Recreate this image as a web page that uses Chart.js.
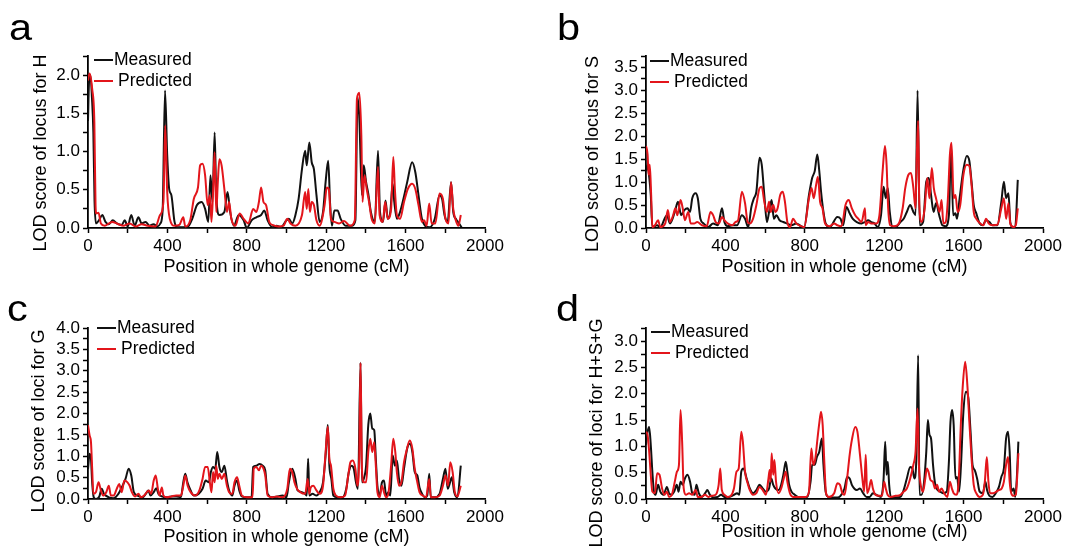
<!DOCTYPE html>
<html>
<head>
<meta charset="utf-8">
<script src="https://cdn.jsdelivr.net/npm/chart.js@4.4.1/dist/chart.umd.min.js"></script>
<style>
  body { margin: 0; background: #fff; font-family: "Liberation Sans", Arial, sans-serif; }
  #page { position: relative; width: 1081px; height: 552px; overflow: hidden; }
  .panel { position: absolute; }
  .letter { position: absolute; font-size: 37px; line-height: 1; color: #000; transform: scaleX(1.12); transform-origin: left top; }
  .legend { position: absolute; font-size: 17.5px; color: #000; }
  .legend div { height: 21px; line-height: 21px; white-space: nowrap; }
  .legend span { display: inline-block; width: 19px; height: 2px; vertical-align: middle; margin-right: 1px; }
  .legend .gap { margin-left: 4px; font-weight: normal; }
  .ytitle { position: absolute; font-size: 18px; line-height: 1; white-space: nowrap; color: #000;
            transform: translate(-50%, -50%) rotate(-90deg); }
</style>
</head>
<body>
<div id="page">
  <div class="panel" style="left:0;top:0"><canvas id="chartA" width="540" height="280"></canvas></div>
  <div class="panel" style="left:540px;top:0"><canvas id="chartB" width="541" height="280"></canvas></div>
  <div class="panel" style="left:0;top:280px"><canvas id="chartC" width="540" height="272"></canvas></div>
  <div class="panel" style="left:540px;top:280px"><canvas id="chartD" width="541" height="272"></canvas></div>

  <div class="letter" style="left:9px;top:9px">a</div>
  <div class="letter" style="left:557px;top:9px">b</div>
  <div class="letter" style="left:7px;top:290px">c</div>
  <div class="letter" style="left:556px;top:290px">d</div>

  <div class="ytitle" style="left:40px;top:153px">LOD score of locus for H</div>
  <div class="ytitle" style="left:592px;top:154px">LOD score of locus for S</div>
  <div class="ytitle" style="left:38px;top:421px">LOD score of loci for G</div>
  <div class="ytitle" style="left:596px;top:433px">LOD score of loci for H+S+G</div>

  <div class="legend" style="left:94px;top:49px">
    <div><span style="background:#111"></span>Measured</div>
    <div><span style="background:#e3151b"></span><b class="gap">Predicted</b></div>
  </div>
  <div class="legend" style="left:650px;top:50px">
    <div><span style="background:#111"></span>Measured</div>
    <div><span style="background:#e3151b"></span><b class="gap">Predicted</b></div>
  </div>
  <div class="legend" style="left:97px;top:317px">
    <div><span style="background:#111"></span>Measured</div>
    <div><span style="background:#e3151b"></span><b class="gap">Predicted</b></div>
  </div>
  <div class="legend" style="left:651px;top:321px">
    <div><span style="background:#111"></span>Measured</div>
    <div><span style="background:#e3151b"></span><b class="gap">Predicted</b></div>
  </div>
</div>

<script>
// x ticks (cM), labelled every 400
const xTicks = [0, 400, 800, 1200, 1600, 2000];

// panel a: LOD for H, [position cM, LOD]
const measuredH = [[0,1.40],[5,1.90],[12,2.00],[20,1.70],[27,1.25],[33,0.35],[40,0.06],[55,0.10],[72,0.17],[88,0.08],[105,0.05],[125,0.10],[145,0.06],[170,0.04],[185,0.10],[200,0.02],[218,0.17],[235,0.03],[254,0.14],[270,0.06],[290,0.08],[310,0.03],[330,0.05],[350,0.02],[365,0.06],[376,0.23],[388,1.80],[399,0.95],[409,0.51],[420,0.43],[436,0.08],[452,0.01],[480,0.01],[505,0.02],[525,0.12],[549,0.30],[573,0.34],[590,0.25],[606,0.08],[617,0.69],[627,0.34],[638,1.25],[646,0.43],[662,0.17],[687,0.21],[703,0.47],[716,0.21],[735,0.03],[759,0.17],[784,0.10],[800,0.00],[824,0.10],[848,0.14],[872,0.17],[888,0.23],[905,0.10],[929,0.01],[950,0.03],[971,0.01],[1000,0.10],[1012,0.12],[1029,0.06],[1045,0.17],[1061,0.38],[1078,0.77],[1094,1.01],[1102,0.82],[1115,1.12],[1127,0.86],[1138,0.77],[1151,0.43],[1167,0.08],[1184,0.21],[1197,0.60],[1210,0.88],[1220,0.30],[1229,0.03],[1241,0.23],[1257,0.23],[1273,0.12],[1298,0.03],[1331,0.03],[1347,0.10],[1358,1.71],[1367,1.43],[1380,0.43],[1389,0.82],[1401,0.60],[1412,0.45],[1425,0.21],[1445,0.08],[1461,1.01],[1471,0.21],[1486,0.08],[1499,0.36],[1510,0.12],[1523,0.21],[1535,0.58],[1543,0.34],[1556,0.12],[1572,0.21],[1589,0.38],[1608,0.60],[1633,0.86],[1649,0.73],[1665,0.43],[1682,0.12],[1698,0.03],[1722,0.01],[1747,0.12],[1771,0.43],[1784,0.38],[1796,0.17],[1812,0.08],[1829,0.60],[1840,0.21],[1853,0.12],[1869,0.06],[1882,0.01]];
const predictedH = [[0,1.93],[8,2.02],[21,1.82],[32,1.38],[38,0.30],[42,0.19],[53,0.20],[65,0.06],[85,0.03],[121,0.08],[153,0.05],[178,0.03],[210,0.06],[240,0.02],[270,0.05],[300,0.03],[340,0.02],[363,0.17],[380,0.34],[389,1.34],[399,0.47],[412,0.12],[436,0.03],[460,0.04],[480,0.14],[490,0.02],[515,0.10],[533,0.38],[554,0.53],[565,0.82],[577,0.84],[590,0.69],[603,0.30],[614,0.43],[622,0.08],[630,0.47],[638,0.99],[646,0.21],[654,0.60],[662,0.90],[673,0.82],[687,0.51],[700,0.21],[711,0.34],[722,0.12],[743,0.03],[764,0.19],[784,0.12],[808,0.06],[832,0.25],[848,0.21],[861,0.34],[872,0.53],[884,0.34],[897,0.30],[913,0.08],[929,0.04],[960,0.02],[985,0.03],[1004,0.12],[1020,0.06],[1045,0.03],[1078,0.17],[1094,0.47],[1102,0.25],[1110,0.51],[1118,0.21],[1127,0.34],[1138,0.30],[1151,0.10],[1167,0.03],[1192,0.30],[1203,0.53],[1213,0.51],[1224,0.12],[1241,0.08],[1265,0.06],[1290,0.09],[1320,0.03],[1344,0.10],[1355,1.69],[1367,1.77],[1377,1.21],[1383,0.34],[1393,0.69],[1404,0.51],[1416,0.34],[1429,0.12],[1445,0.06],[1461,0.80],[1469,0.17],[1485,0.08],[1497,0.34],[1510,0.12],[1527,0.25],[1538,0.93],[1546,0.51],[1556,0.17],[1572,0.12],[1592,0.34],[1611,0.51],[1633,0.58],[1649,0.51],[1665,0.30],[1682,0.08],[1693,0.10],[1706,0.03],[1719,0.32],[1731,0.06],[1750,0.06],[1771,0.45],[1788,0.38],[1801,0.12],[1816,0.06],[1829,0.60],[1840,0.25],[1853,0.10],[1866,0.03],[1878,0.17]];

// panel b: LOD for S
const measuredS = [[0,1.24],[8,1.38],[16,1.12],[24,0.72],[32,0.02],[56,0.06],[72,0.02],[105,0.28],[121,0.10],[145,0.35],[161,0.57],[177,0.28],[193,0.39],[209,0.43],[222,0.35],[233,0.65],[250,0.76],[261,0.65],[274,0.20],[290,0.10],[314,0.02],[338,0.10],[362,0.06],[383,0.43],[395,0.13],[411,0.04],[435,0.06],[459,0.06],[483,0.28],[499,0.20],[515,0.02],[531,0.46],[544,0.65],[556,0.79],[572,1.53],[583,1.38],[596,0.72],[609,0.13],[620,0.35],[633,0.61],[644,0.20],[657,0.28],[673,0.17],[692,0.13],[709,0.10],[733,0.06],[757,0.10],[781,0.04],[797,0.02],[821,0.72],[837,1.09],[850,1.24],[863,1.60],[873,1.24],[882,0.79],[894,0.35],[905,0.10],[926,0.02],[964,0.24],[980,0.20],[993,0.06],[1010,0.46],[1026,0.32],[1042,0.20],[1062,0.13],[1086,0.10],[1103,0.13],[1119,0.17],[1135,0.13],[1151,0.10],[1168,0.02],[1184,0.28],[1197,0.90],[1208,0.65],[1218,0.87],[1228,0.35],[1241,0.02],[1257,0.02],[1282,0.13],[1298,0.20],[1314,0.35],[1331,0.50],[1347,0.35],[1358,0.28],[1368,3.00],[1379,0.06],[1396,0.13],[1412,1.01],[1425,1.09],[1436,0.72],[1449,0.35],[1461,0.54],[1477,0.28],[1493,0.06],[1510,0.04],[1526,0.28],[1537,1.82],[1547,0.28],[1559,0.32],[1567,0.20],[1580,0.65],[1599,1.27],[1616,1.57],[1629,1.46],[1640,1.01],[1651,0.50],[1664,0.32],[1681,0.10],[1697,0.06],[1713,0.17],[1730,0.13],[1746,0.06],[1770,0.06],[1790,0.57],[1803,1.01],[1814,0.65],[1826,0.76],[1835,0.13],[1847,0.02],[1860,0.02],[1873,1.05]];
const predictedS = [[0,1.79],[8,1.60],[13,1.16],[19,1.38],[26,0.72],[32,0.02],[45,0.06],[61,0.17],[72,0.02],[97,0.10],[110,0.39],[121,0.13],[137,0.28],[148,0.43],[158,0.28],[174,0.61],[185,0.43],[196,0.17],[213,0.35],[225,0.10],[242,0.10],[258,0.13],[282,0.06],[306,0.04],[325,0.35],[338,0.28],[351,0.13],[367,0.10],[383,0.24],[395,0.17],[411,0.10],[435,0.06],[451,0.13],[464,0.17],[483,0.79],[499,0.54],[512,0.13],[523,0.10],[539,0.20],[556,0.50],[572,0.87],[583,0.90],[596,0.57],[609,0.35],[620,0.57],[628,0.35],[641,0.50],[652,0.35],[663,0.43],[676,0.72],[689,0.79],[700,0.57],[712,0.13],[725,0.02],[741,0.20],[757,0.10],[781,0.04],[797,0.02],[821,0.65],[834,0.87],[845,0.65],[857,0.94],[866,1.12],[877,0.57],[889,0.43],[902,0.10],[926,0.04],[948,0.10],[964,0.06],[985,0.04],[1005,0.50],[1021,0.61],[1037,0.43],[1054,0.28],[1070,0.20],[1086,0.13],[1103,0.43],[1107,0.06],[1119,0.13],[1135,0.10],[1160,0.10],[1176,0.28],[1192,1.24],[1204,1.79],[1212,1.38],[1220,0.43],[1230,0.06],[1249,0.04],[1274,0.10],[1293,0.43],[1306,0.87],[1322,1.16],[1335,1.20],[1347,0.87],[1358,0.43],[1363,1.38],[1371,2.34],[1377,0.50],[1388,0.13],[1404,0.43],[1417,1.09],[1428,0.65],[1440,1.31],[1450,0.87],[1461,0.65],[1469,0.50],[1479,0.35],[1489,0.61],[1498,0.10],[1510,0.13],[1521,0.65],[1531,1.60],[1539,1.86],[1550,0.65],[1559,0.72],[1570,0.35],[1583,0.50],[1599,1.16],[1616,1.38],[1629,1.35],[1640,0.94],[1651,0.35],[1664,0.20],[1684,0.10],[1700,0.06],[1713,0.20],[1726,0.10],[1746,0.06],[1770,0.07],[1790,0.43],[1803,0.65],[1814,0.20],[1826,0.54],[1835,0.10],[1852,0.02],[1863,0.06],[1873,0.43]];

// panel c: LOD for G
const measuredG = [[0,0.70],[8,1.06],[15,0.94],[21,0.39],[29,0.04],[40,0.00],[57,0.06],[69,0.24],[81,0.12],[105,0.04],[129,0.02],[153,0.12],[170,0.27],[189,0.47],[205,0.71],[218,0.55],[231,0.16],[250,0.08],[275,0.04],[291,0.12],[304,0.20],[315,0.08],[331,0.16],[344,0.25],[355,0.12],[372,0.06],[396,0.04],[420,0.06],[444,0.06],[468,0.04],[480,0.39],[490,0.59],[501,0.39],[517,0.20],[533,0.08],[557,0.12],[577,0.24],[593,0.43],[609,0.39],[619,0.63],[630,0.75],[641,0.71],[651,1.10],[662,0.75],[674,0.63],[687,0.78],[700,0.43],[711,0.20],[727,0.08],[738,0.31],[751,0.43],[762,0.20],[775,0.06],[800,0.04],[824,0.04],[832,0.75],[848,0.78],[864,0.82],[880,0.78],[893,0.67],[905,0.12],[929,0.04],[950,0.05],[980,0.08],[1000,0.04],[1012,0.39],[1029,0.71],[1045,0.47],[1056,0.20],[1078,0.16],[1094,0.12],[1102,0.08],[1109,0.94],[1115,0.08],[1131,0.12],[1151,0.08],[1167,0.16],[1184,0.39],[1197,1.02],[1208,1.73],[1216,0.78],[1226,0.47],[1236,0.08],[1257,0.04],[1282,0.04],[1301,0.24],[1314,0.63],[1327,0.78],[1339,0.71],[1350,0.39],[1360,0.24],[1373,3.19],[1380,0.39],[1389,0.47],[1401,0.78],[1412,1.73],[1422,2.00],[1432,1.65],[1442,1.61],[1450,0.94],[1458,0.31],[1469,0.08],[1481,0.39],[1491,0.43],[1502,0.08],[1513,0.16],[1523,0.08],[1535,1.02],[1546,0.78],[1556,0.90],[1567,0.47],[1579,0.31],[1592,0.71],[1608,1.18],[1621,1.29],[1634,1.10],[1646,0.63],[1659,0.55],[1670,0.27],[1683,0.12],[1698,0.04],[1709,0.08],[1719,0.59],[1727,0.04],[1747,0.04],[1771,0.12],[1788,0.47],[1801,0.71],[1812,0.24],[1824,0.39],[1833,0.51],[1845,0.16],[1861,0.04],[1878,0.78]];
const predictedG = [[0,1.73],[8,1.49],[15,1.33],[21,0.71],[27,0.12],[40,0.16],[53,0.39],[65,0.20],[76,0.08],[92,0.16],[105,0.31],[115,0.08],[129,0.08],[145,0.24],[157,0.35],[170,0.16],[183,0.43],[199,0.39],[210,0.31],[221,0.16],[237,0.06],[254,0.12],[267,0.04],[283,0.08],[296,0.16],[307,0.20],[318,0.12],[331,0.43],[341,0.55],[352,0.24],[360,0.08],[372,0.27],[380,0.08],[396,0.04],[420,0.06],[444,0.08],[468,0.08],[480,0.31],[490,0.55],[502,0.31],[517,0.16],[541,0.08],[561,0.20],[577,0.47],[590,0.75],[603,0.75],[614,0.39],[622,0.16],[630,0.63],[638,0.39],[646,0.78],[654,0.47],[662,0.59],[674,0.47],[687,0.59],[700,0.31],[711,0.16],[727,0.12],[738,0.39],[751,0.51],[762,0.31],[775,0.08],[800,0.04],[829,0.04],[835,0.71],[848,0.75],[861,0.67],[872,0.78],[884,0.71],[893,0.55],[905,0.08],[929,0.04],[950,0.06],[980,0.04],[1004,0.24],[1017,0.71],[1029,0.63],[1040,0.39],[1053,0.24],[1069,0.16],[1094,0.12],[1107,0.47],[1115,0.12],[1122,0.27],[1135,0.31],[1151,0.20],[1167,0.12],[1184,0.31],[1197,1.10],[1208,1.69],[1216,0.94],[1224,0.78],[1236,0.24],[1249,0.08],[1273,0.04],[1295,0.08],[1311,0.55],[1322,0.86],[1334,0.90],[1347,0.71],[1357,0.31],[1367,1.10],[1373,3.18],[1380,0.71],[1389,0.39],[1401,0.39],[1412,1.10],[1422,1.41],[1432,1.10],[1442,1.33],[1450,0.78],[1458,0.16],[1469,0.04],[1481,0.31],[1491,0.16],[1502,0.04],[1513,0.12],[1527,0.78],[1538,1.41],[1548,1.10],[1556,0.63],[1567,0.31],[1579,0.39],[1592,0.86],[1605,1.14],[1621,1.37],[1634,1.18],[1646,0.71],[1659,0.39],[1670,0.16],[1687,0.08],[1703,0.04],[1719,0.47],[1727,0.04],[1747,0.04],[1771,0.08],[1788,0.31],[1801,0.55],[1814,0.31],[1825,0.86],[1837,0.63],[1848,0.16],[1861,0.06],[1878,0.31]];

// panel d: LOD for H+S+G
const measuredHSG = [[0,1.03],[8,1.28],[16,1.37],[24,1.03],[32,0.52],[40,0.14],[48,0.08],[61,0.27],[72,0.14],[89,0.08],[105,0.23],[116,0.11],[129,0.08],[142,0.14],[155,0.27],[164,0.14],[174,0.33],[185,0.27],[196,0.39],[209,0.46],[222,0.33],[233,0.11],[245,0.08],[254,0.27],[266,0.11],[282,0.04],[298,0.11],[309,0.17],[322,0.08],[341,0.03],[362,0.04],[378,0.08],[395,0.04],[419,0.04],[443,0.08],[459,0.11],[470,0.08],[480,0.52],[491,0.58],[507,0.39],[523,0.20],[539,0.11],[556,0.17],[572,0.27],[588,0.20],[604,0.14],[620,0.20],[631,0.39],[641,0.27],[652,0.20],[668,0.17],[681,0.27],[692,0.46],[704,0.71],[712,0.52],[721,0.27],[733,0.14],[749,0.08],[765,0.04],[789,0.03],[813,0.04],[829,0.33],[837,0.65],[850,0.65],[861,0.80],[873,0.90],[886,1.15],[894,0.65],[905,0.14],[918,0.04],[940,0.03],[965,0.03],[980,0.06],[1000,0.20],[1013,0.42],[1026,0.39],[1037,0.27],[1049,0.20],[1062,0.17],[1078,0.20],[1094,0.11],[1111,0.04],[1127,0.04],[1143,0.11],[1160,0.08],[1184,0.04],[1197,0.39],[1205,1.09],[1212,0.46],[1218,0.71],[1225,0.27],[1235,0.04],[1257,0.03],[1282,0.04],[1298,0.17],[1314,0.39],[1331,0.61],[1342,0.58],[1352,0.39],[1362,0.77],[1371,2.73],[1378,0.08],[1388,0.08],[1401,0.33],[1412,0.90],[1420,1.50],[1428,1.22],[1436,1.15],[1446,0.65],[1456,0.30],[1469,0.17],[1482,0.14],[1498,0.11],[1515,0.14],[1526,0.71],[1534,1.47],[1542,1.69],[1550,1.41],[1559,0.39],[1567,0.42],[1577,0.14],[1586,0.58],[1599,1.66],[1612,2.04],[1624,1.92],[1635,1.28],[1645,0.65],[1656,0.55],[1668,0.39],[1681,0.14],[1697,0.11],[1710,0.33],[1718,0.17],[1730,0.06],[1746,0.04],[1762,0.11],[1778,0.23],[1790,0.42],[1803,0.58],[1814,1.15],[1824,1.28],[1832,0.90],[1840,0.14],[1852,0.20],[1860,0.04],[1868,0.39],[1876,1.09]];
const predictedHSG = [[0,1.28],[8,1.22],[16,0.90],[24,0.46],[32,0.14],[45,0.11],[56,0.49],[68,0.46],[81,0.20],[93,0.08],[105,0.14],[116,0.04],[130,0.08],[145,0.33],[156,0.52],[166,0.65],[174,1.69],[182,1.09],[190,0.20],[201,0.08],[217,0.11],[233,0.08],[250,0.17],[261,0.04],[277,0.04],[298,0.08],[314,0.04],[330,0.06],[351,0.08],[366,0.27],[374,0.58],[382,0.17],[395,0.08],[411,0.04],[427,0.06],[443,0.20],[456,0.52],[467,0.58],[480,1.28],[488,1.09],[499,0.52],[512,0.30],[523,0.17],[539,0.08],[556,0.11],[572,0.23],[588,0.17],[604,0.08],[617,0.39],[623,0.55],[628,0.33],[633,0.87],[641,0.46],[647,0.74],[655,0.33],[668,0.11],[681,0.20],[692,0.36],[704,0.52],[712,0.33],[725,0.11],[741,0.04],[757,0.04],[781,0.04],[805,0.04],[821,0.14],[833,0.96],[843,0.65],[853,0.77],[864,1.15],[873,1.44],[882,1.66],[890,1.41],[899,0.65],[907,0.11],[921,0.04],[948,0.11],[964,0.30],[977,0.27],[989,0.11],[1000,0.08],[1013,0.39],[1026,0.84],[1037,1.12],[1054,1.37],[1065,1.28],[1078,0.84],[1090,0.39],[1099,0.14],[1107,0.84],[1114,0.11],[1124,0.20],[1134,0.36],[1143,0.20],[1156,0.08],[1173,0.06],[1189,0.06],[1200,0.33],[1208,0.20],[1217,0.08],[1233,0.04],[1257,0.06],[1282,0.08],[1298,0.14],[1314,0.20],[1331,0.39],[1347,0.65],[1358,0.90],[1368,1.72],[1375,0.65],[1384,0.27],[1396,0.14],[1407,0.39],[1415,0.58],[1423,0.52],[1433,0.36],[1445,0.33],[1456,0.20],[1466,0.27],[1477,0.14],[1489,0.20],[1502,0.11],[1518,0.04],[1531,0.33],[1541,0.20],[1550,0.11],[1563,0.08],[1575,0.33],[1586,1.41],[1596,2.16],[1608,2.61],[1619,2.16],[1629,1.47],[1640,0.77],[1651,0.27],[1664,0.11],[1681,0.04],[1697,0.08],[1707,0.33],[1717,0.80],[1725,0.33],[1733,0.11],[1749,0.11],[1765,0.14],[1778,0.17],[1792,0.20],[1803,0.33],[1814,0.65],[1824,0.80],[1832,0.33],[1840,0.11],[1852,0.06],[1863,0.08],[1876,0.87]];

const BLACK = '#111111';
const RED = '#e3151b';
const FONT = '"Liberation Sans", Arial, sans-serif';

function toXY(pts) {
  return pts.map(p => ({ x: p[0], y: p[1] }));
}

function makeChart(id, measured, predicted, yMax, lay) {
  const ctx = document.getElementById(id).getContext('2d');
  return new Chart(ctx, {
    type: 'line',
    data: {
      datasets: [
        { label: 'Measured', data: toXY(measured), borderColor: BLACK, order: 2 },
        { label: 'Predicted', data: toXY(predicted), borderColor: RED, order: 1 }
      ]
    },
    options: {
      responsive: false,
      animation: false,
      devicePixelRatio: 1,
      layout: { padding: lay.pad },
      elements: {
        point: { radius: 0 },
        line: { borderWidth: 2, cubicInterpolationMode: 'monotone', fill: false }
      },
      plugins: { legend: { display: false }, tooltip: { enabled: false } },
      scales: {
        x: {
          type: 'linear',
          min: 0, max: 2000,
          afterFit: s => { s.height = lay.xH; },
          afterBuildTicks: s => {
            s.ticks = [];
            for (let v = 0; v <= 2000; v += 200) s.ticks.push({ value: v });
          },
          ticks: {
            autoSkip: false, maxRotation: 0, padding: 3, color: '#000',
            font: { family: FONT, size: 17 },
            callback: v => xTicks.includes(v) ? String(v) : ''
          },
          grid: { drawOnChartArea: false, tickLength: 5, tickColor: '#000', tickWidth: 1.5 },
          border: { color: '#000', width: 1.8 },
          title: {
            display: true, text: 'Position in whole genome (cM)', color: '#000',
            font: { family: FONT, size: 18 }, padding: { top: 0, bottom: lay.xTitlePad }
          }
        },
        y: {
          min: 0, max: yMax,
          afterFit: s => { s.width = lay.yW; },
          ticks: {
            stepSize: 0.25, autoSkip: false, padding: 3, color: '#000',
            font: { family: FONT, size: 17 },
            callback: v => (Math.abs(v * 2 - Math.round(v * 2)) < 1e-6 ? v.toFixed(1) : '')
          },
          grid: { drawOnChartArea: false, tickLength: 5, tickColor: '#000', tickWidth: 1.5 },
          border: { color: '#000', width: 1.8 }
        }
      }
    }
  });
}

makeChart('chartA', measuredH, predictedH, 2.25,
  { pad: { left: 29, top: 56, right: 55, bottom: 0 }, yW: 59, xH: 52, xTitlePad: 2 });
makeChart('chartB', measuredS, predictedS, 3.75,
  { pad: { left: 41, top: 56, right: 38, bottom: 0 }, yW: 65, xH: 52, xTitlePad: 2 });
makeChart('chartC', measuredG, predictedG, 4.0,
  { pad: { left: 27, top: 48, right: 55, bottom: 0 }, yW: 61, xH: 53, xTitlePad: 4 });
makeChart('chartD', measuredHSG, predictedHSG, 3.25,
  { pad: { left: 45, top: 48, right: 38, bottom: 0 }, yW: 61, xH: 53, xTitlePad: 9 });
</script>
</body>
</html>
